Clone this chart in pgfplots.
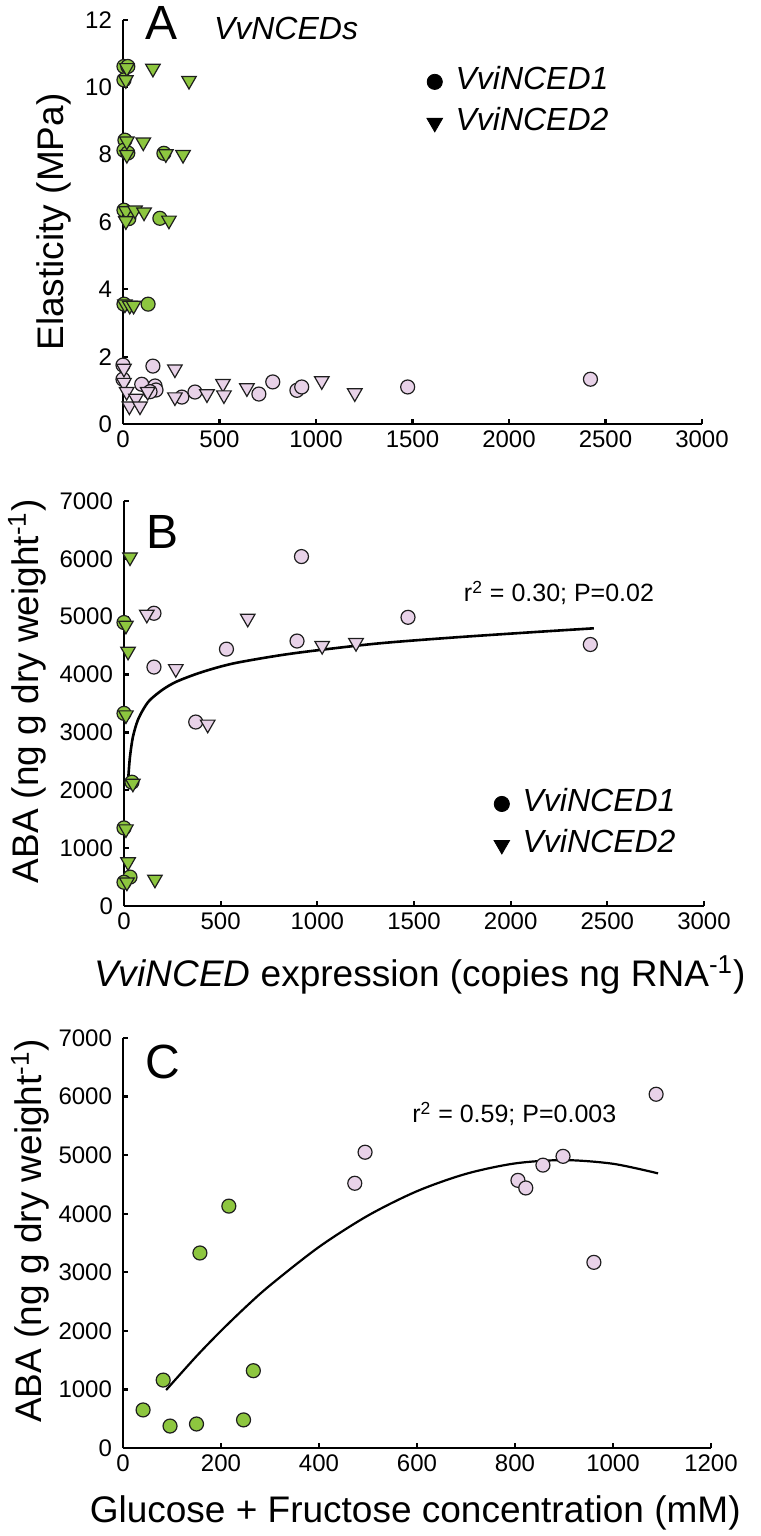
\documentclass[border=0pt]{standalone}
\usepackage{fontspec}
\setmainfont{Liberation Sans}
\usepackage{pgfplots}
\pgfplotsset{compat=1.18}

\definecolor{leafgreen}{RGB}{141,198,63}
\definecolor{lilac}{RGB}{232,210,232}
\definecolor{edge}{RGB}{30,30,30}

\pgfplotsset{
  panel/.style={
    scale only axis, clip=false,
    axis x line*=bottom, axis y line*=left,
    axis line style={line width=1.4pt, -},
    tick align=inside, major tick length=2.6pt,
    tick style={line width=1.1pt, black},
    scaled ticks=false,
    /pgf/number format/assume math mode=true,
    /pgf/number format/1000 sep={},
    tick label style={font=\fontsize{12}{14}\selectfont},
    yticklabel style={xshift=-2pt},
    label style={font=\fontsize{18.5}{22}\selectfont},
  },
  gcirc/.style={only marks, mark=*, mark size=3.5pt,
    mark options={fill=leafgreen, draw=edge, line width=0.6pt}},
  gtri/.style={only marks, mark=triangle*, mark size=4.2pt,
    mark options={fill=leafgreen, draw=edge, line width=0.6pt, rotate=180}},
  pcirc/.style={only marks, mark=*, mark size=3.5pt,
    mark options={fill=lilac, draw=edge, line width=0.6pt}},
  ptri/.style={only marks, mark=triangle*, mark size=4.2pt,
    mark options={fill=lilac, draw=edge, line width=0.6pt, rotate=180}},
  keylegend/.style={
    legend cell align=left,
    legend style={draw=none, fill=none, inner sep=0pt, outer sep=0pt,
      row sep=5.5pt, column sep=6pt, font=\fontsize{16}{18}\selectfont\itshape,
      nodes={inner sep=0.5pt, text height=11pt, text depth=3pt}},
  },
}

\begin{document}
\begin{tikzpicture}
\path[use as bounding box] (0pt,0pt) rectangle (380pt,-768pt);

% ---------------- A ----------------
\begin{axis}[panel, keylegend,
  at={(61.5pt,-212pt)}, anchor=south west,
  width=289.5pt, height=202pt,
  xmin=0, xmax=3000, ymin=0, ymax=12,
  xtick={0,500,...,3000}, ytick={0,2,...,12},
  ylabel={Elasticity (MPa)},
  ylabel style={at={(axis description cs:-0.119,0.5)}, anchor=center},
  legend style={at={(rel axis cs:0.525,0.884)}, anchor=north west},
]
\addlegendimage{only marks, mark=*, mark size=3.8pt, black}
\addlegendentry{VviNCED1}
\addlegendimage{only marks, mark=triangle*, mark size=4.5pt, black, mark options={rotate=180}}
\addlegendentry{VviNCED2}

\addplot[pcirc, forget plot] coordinates {
  (0,1.75) (155,1.72) (0,1.33) (97,1.18) (166,1.13) (171,1.01) (140,0.96)
  (305,0.80) (373,0.95) (704,0.89) (776,1.25) (901,1.00) (926,1.10)
  (1475,1.10) (2422,1.33)
};
\addplot[ptri, forget plot] coordinates {
  (5,1.65) (269,1.63) (5,1.23) (19,0.96) (33,0.53) (67,0.76) (88,0.53)
  (128,0.96) (269,0.80) (435,0.89) (518,1.20) (523,0.86) (642,1.07)
  (1030,1.28) (1201,0.92)
};
\addplot[gcirc, forget plot] coordinates {
  (5,10.62) (25,10.62) (5,10.22) (10,8.43) (5,8.13) (25,8.05) (212,8.04)
  (5,6.35) (30,6.10) (191,6.11) (5,3.56) (130,3.56)
};
\addplot[gtri, forget plot] coordinates {
  (20,10.58) (155,10.56) (15,10.22) (342,10.20) (20,8.40) (105,8.37)
  (20,8.00) (222,8.02) (311,8.00) (15,6.33) (62,6.35) (109,6.29)
  (238,6.05) (15,6.03) (10,3.56) (35,3.52) (55,3.52)
};
\node[anchor=center, font=\fontsize{24}{26}\selectfont] at (rel axis cs:0.066,0.993) {A};
\node[anchor=west, font=\fontsize{16}{18}\selectfont\itshape] at (rel axis cs:0.145,0.980) {VvNCEDs};
\end{axis}

% ---------------- B ----------------
\begin{axis}[panel, keylegend,
  at={(62pt,-453pt)}, anchor=south west,
  width=290pt, height=202.5pt,
  xmin=0, xmax=3000, ymin=0, ymax=7000,
  xtick={0,500,...,3000}, ytick={0,1000,...,7000},
  xlabel={\textit{VviNCED} expression (copies ng RNA\textsuperscript{-1})},
  xlabel style={at={(axis description cs:0.51,-0.17)}, anchor=center},
  ylabel={ABA (ng g dry weight\textsuperscript{-1})},
  ylabel style={at={(axis description cs:-0.167,0.53)}, anchor=center},
  legend style={at={(rel axis cs:0.638,0.289)}, anchor=north west},
]
\addlegendimage{only marks, mark=*, mark size=3.8pt, black}
\addlegendentry{VviNCED1}
\addlegendimage{only marks, mark=triangle*, mark size=4.5pt, black, mark options={rotate=180}}
\addlegendentry{VviNCED2}

\addplot[pcirc, forget plot] coordinates {
  (155,5060) (155,4130) (371,3180) (530,4440) (895,4580) (918,6040)
  (1469,4990) (2412,4520)
};
\addplot[ptri, forget plot] coordinates {
  (118,5040) (268,4100) (433,3140) (640,4970) (1025,4500) (1200,4550)
};
\addplot[gcirc, forget plot] coordinates {
  (0,4900) (0,3330) (41,2140) (0,1350) (31,500) (0,410)
};
\addplot[gtri, forget plot] coordinates {
  (31,6030) (10,4850) (21,4400) (10,3300) (46,2120) (10,1330) (21,760)
  (15,410) (160,460)
};
\addplot[black, line width=1.3pt, smooth, forget plot] coordinates {
  (20,2100) (30,2550) (46,2920) (70,3200) (100,3400) (134,3560) (200,3740)
  (273,3880) (400,4040) (562,4190) (800,4330) (1000,4420) (1320,4540)
  (1700,4640) (2100,4730) (2430,4800)
};
\node[anchor=center, font=\fontsize{24}{26}\selectfont] at (rel axis cs:0.066,0.923) {B};
\node[anchor=base west, font=\fontsize{12.5}{14}\selectfont] at (rel axis cs:0.574,0.751) {r\textsuperscript{2} = 0.30; P=0.02};
\end{axis}

% ---------------- C ----------------
\begin{axis}[panel,
  at={(61.5pt,-724pt)}, anchor=south west,
  width=294pt, height=205pt,
  xmin=0, xmax=1200, ymin=0, ymax=7000,
  xtick={0,200,...,1200}, ytick={0,1000,...,7000},
  xlabel={Glucose + Fructose concentration (mM)},
  xlabel style={at={(axis description cs:0.497,-0.159)}, anchor=center},
  ylabel={ABA (ng g dry weight\textsuperscript{-1})},
  ylabel style={at={(axis description cs:-0.158,0.53)}, anchor=center},
]
\addplot[black, line width=1.1pt, smooth] coordinates {
  (88,990) (150,1568) (200,2000) (250,2404) (300,2777) (400,3433)
  (500,3969) (600,4385) (700,4681) (800,4859) (900,4916) (1000,4853)
  (1092,4689)
};
\addplot[gcirc] coordinates {
  (41,650) (82,1160) (96,375) (150,410) (246,480) (266,1320)
  (157,3330) (216,4130)
};
\addplot[pcirc] coordinates {
  (473,4520) (494,5050) (806,4570) (822,4440) (857,4830) (898,4980)
  (961,3170) (1088,6040)
};
\node[anchor=center, font=\fontsize{24}{26}\selectfont] at (rel axis cs:0.068,0.941) {C};
\node[anchor=base west, font=\fontsize{12.5}{14}\selectfont] at (rel axis cs:0.480,0.793) {r\textsuperscript{2} = 0.59; P=0.003};
\end{axis}
\end{tikzpicture}
\end{document}
